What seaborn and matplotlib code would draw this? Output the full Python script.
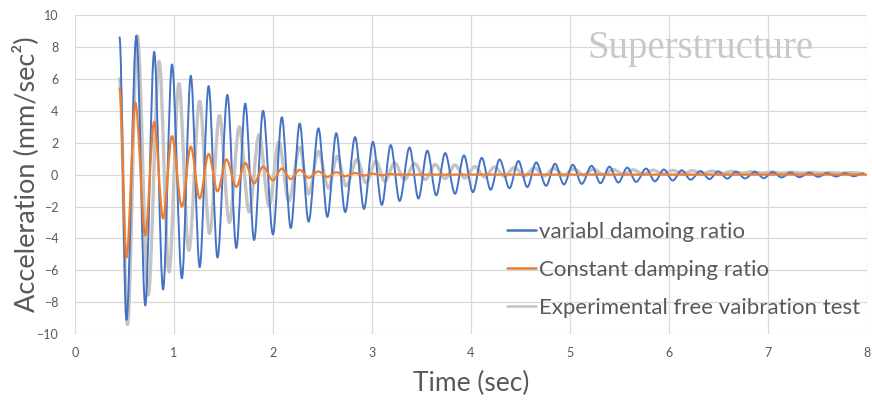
import seaborn as sns
import matplotlib.pyplot as plt
from matplotlib.path import Path
from matplotlib.patheffects import AbstractPathEffect
from matplotlib.transforms import IdentityTransform

# peaks / troughs (time in sec, acceleration in mm/sec^2)
blue_t = [0.45, 0.52, 0.62, 0.71, 0.80, 0.89, 0.98, 1.08, 1.17, 1.26, 1.35, 1.44, 1.54, 1.63,
          1.72, 1.81, 1.90, 2.00, 2.09, 2.18, 2.27, 2.36, 2.46, 2.55, 2.64, 2.73, 2.83, 2.92,
          3.01, 3.10, 3.19, 3.28, 3.38, 3.47, 3.56, 3.65, 3.74, 3.84, 3.93, 4.02, 4.11, 4.20,
          4.29, 4.39, 4.48, 4.57, 4.66, 4.76, 4.85, 4.94, 5.03, 5.12, 5.22, 5.31, 5.40, 5.49,
          5.58, 5.67, 5.77, 5.86, 5.95, 6.04, 6.13, 6.22, 6.32, 6.41, 6.50, 6.59, 6.68, 6.77,
          6.87, 6.96, 7.05, 7.14, 7.23, 7.32, 7.42, 7.51, 7.60, 7.69, 7.78, 7.87, 7.97]
blue_a = [8.6, -9.1, 8.7, -8.2, 7.7, -7.2, 6.9, -6.5, 6.2, -5.8, 5.55, -5.2, 5.0, -4.6,
          4.45, -4.1, 4.0, -3.75, 3.6, -3.35, 3.2, -2.95, 2.9, -2.65, 2.6, -2.35, 2.35, -2.15,
          2.05, -1.9, 1.85, -1.65, 1.7, -1.5, 1.5, -1.3, 1.35, -1.2, 1.2, -1.1, 1.05, -0.95,
          0.95, -0.85, 0.85, -0.78, 0.76, -0.7, 0.68, -0.62, 0.62, -0.58, 0.55, -0.54, 0.5, -0.5,
          0.44, -0.46, 0.38, -0.42, 0.32, -0.37, 0.27, -0.32, 0.22, -0.28, 0.2, -0.25, 0.18, -0.24,
          0.17, -0.22, 0.16, -0.18, 0.13, -0.16, 0.12, -0.14, 0.1, -0.12, 0.09, -0.1, 0.08]

orange_t = [0.45, 0.52, 0.61, 0.71, 0.80, 0.89, 0.98, 1.08, 1.17, 1.26, 1.35, 1.44, 1.53, 1.63,
            1.72, 1.81, 1.90, 2.00, 2.09, 2.18, 2.27, 2.36, 2.46, 2.55, 2.64, 2.73, 2.83, 2.92,
            3.01, 3.10, 3.19, 3.28, 8.00]
orange_a = [5.4, -5.2, 4.5, -3.8, 3.3, -2.75, 2.4, -2.0, 1.75, -1.5, 1.3, -1.05, 0.95, -0.77,
            0.73, -0.55, 0.5, -0.36, 0.38, -0.28, 0.3, -0.2, 0.2, -0.15, 0.15, -0.1, 0.1, -0.06,
            0.06, -0.04, 0.03, 0.0, 0.0]

gray_t = [0.45, 0.53, 0.63, 0.74, 0.85, 0.95, 1.05, 1.15, 1.26, 1.36, 1.46, 1.56, 1.66, 1.76,
          1.86, 1.96, 2.06, 2.16, 2.27, 2.36, 2.46, 2.56, 2.65, 2.74, 2.85, 2.94, 3.04, 3.13,
          3.23, 3.33, 3.43, 3.54, 3.64, 3.74, 3.84, 3.94, 4.04, 4.14, 4.24, 4.34, 4.44, 4.54,
          4.64, 4.74, 4.84, 4.94, 5.04, 5.14, 5.24, 5.34, 5.44, 5.54, 5.64, 5.74, 5.84, 5.94,
          6.04, 6.14, 6.24, 6.34, 6.44, 6.54, 6.64, 6.74, 6.84, 6.94, 7.04, 7.14, 7.24, 7.34,
          7.44, 7.54, 7.64, 7.74, 7.84, 7.94]
gray_a = [6.0, -9.4, 8.7, -7.55, 7.1, -6.1, 5.7, -4.75, 4.6, -3.7, 3.7, -3.0, 3.0, -2.35,
          2.5, -1.95, 2.05, -1.65, 1.7, -1.2, 1.45, -0.85, 1.15, -0.72, 0.95, -0.52, 0.84, -0.42,
          0.73, -0.32, 0.7, -0.3, 0.63, -0.25, 0.6, -0.22, 0.5, -0.15, 0.48, -0.12, 0.45, -0.1,
          0.42, -0.08, 0.4, -0.05, 0.36, -0.03, 0.34, 0.0, 0.32, 0.02, 0.3, 0.03, 0.28, 0.05,
          0.26, 0.06, 0.24, 0.07, 0.22, 0.08, 0.2, 0.1, 0.18, 0.1, 0.16, 0.1, 0.15, 0.1,
          0.14, 0.1, 0.13, 0.1, 0.12, 0.1]

labels = ["variabl damoing ratio", "Constant damping ratio", "Experimental free vaibration test"]
x_ticks = [0, 1, 2, 3, 4, 5, 6, 7, 8]
y_ticks = [-10, -8, -6, -4, -2, 0, 2, 4, 6, 8, 10]


class Smooth(AbstractPathEffect):
    """draw the polyline as a smoothed curve (like excel's 'smoothed line')"""

    def draw_path(self, renderer, gc, tpath, affine, rgbFace=None):
        pts = affine.transform(tpath.vertices)
        verts = [pts[0]]
        codes = [Path.MOVETO]
        for p0, p1 in zip(pts[:-1], pts[1:]):
            d = (p1[0] - p0[0]) / 3
            verts += [(p0[0] + d, p0[1]), (p1[0] - d, p1[1]), p1]
            codes += [Path.CURVE4] * 3
        renderer.draw_path(gc, Path(verts, codes), IdentityTransform(), rgbFace)


sns.set_style("white")
plt.rcParams['font.family'] = ['Lato', 'DejaVu Sans']

fig = plt.figure(figsize=(8.72, 4.07), dpi=100)
ax = fig.add_axes([0.086, 0.179, 0.908, 0.784])

sns.lineplot(x=blue_t, y=blue_a, color="#4472C4", lw=1.4, label=labels[0], zorder=2, ax=ax)
sns.lineplot(x=orange_t, y=orange_a, color="#ED7D31", lw=1.6, label=labels[1], zorder=3, ax=ax)
sns.lineplot(x=gray_t, y=gray_a, color="#C4C4C4", lw=2.4, label=labels[2], zorder=1, ax=ax)
for ln in ax.lines:
    ln.set_path_effects([Smooth()])

ax.set_xlim(0, 8)
ax.set_ylim(-10, 10)
ax.set_xticks(x_ticks)
ax.set_yticks(y_ticks)
ax.grid(True, color="#D9D9D9", lw=0.9)
ax.set_axisbelow(True)
for s in ax.spines.values():
    s.set_visible(False)
ax.tick_params(axis="y", length=0, labelsize=9, colors="#595959", pad=12)
ax.tick_params(axis="x", length=0, labelsize=9, colors="#595959", pad=9)

ax.set_xlabel("Time (sec)", fontsize=19, color="#595959", labelpad=9)
ax.set_ylabel("Acceleration (mm/sec²)", fontsize=19.5, color="#595959")
ax.yaxis.set_label_coords(-0.045, 0.5)

ax.text(0.79, 0.895, "Superstructure", transform=ax.transAxes, ha="center", va="center",
        fontsize=28, color="#C8C8C8", family="Liberation Serif")

leg = ax.legend(loc="upper left", bbox_to_anchor=(0.535, 0.38), frameon=False,
                fontsize=16, handlelength=1.3, handletextpad=0.1, labelspacing=0.82,
                borderaxespad=0)
for t in leg.get_texts():
    t.set_color("#595959")
for h in leg.get_lines():
    h.set_linewidth(1.8)
    h.set_path_effects([])

plt.savefig("out.png", dpi=100)
plt.close()
